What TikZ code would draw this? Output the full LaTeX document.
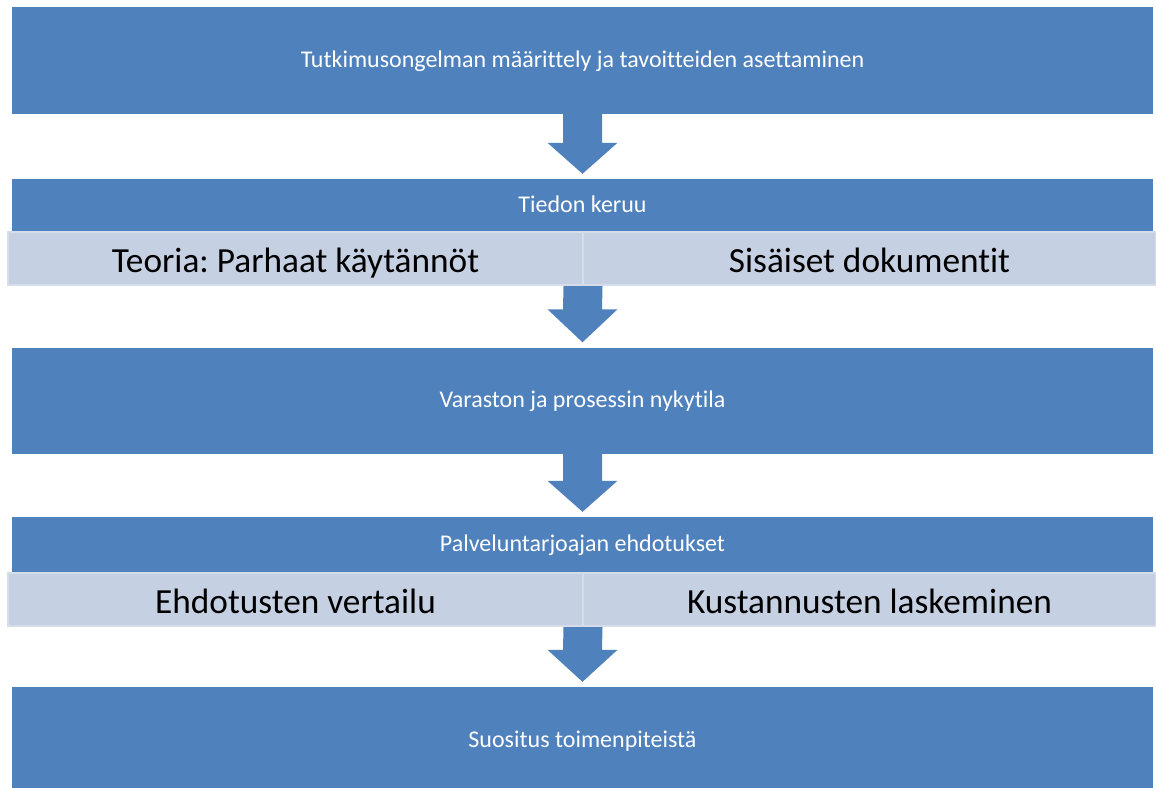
\documentclass[tikz,border=0pt]{standalone}
\usepackage{fontspec}
\setmainfont{Carlito}[Ligatures=NoCommon]
\usetikzlibrary{calc}
\definecolor{dblue}{HTML}{4F81BD}
\definecolor{lblue}{HTML}{C6D0E3}
\definecolor{lline}{HTML}{D6DDEA}
\frenchspacing
\begin{document}
\begin{tikzpicture}[x=1pt,y=-1pt,
  mainbox/.style={fill=dblue, draw=none, minimum width=1141pt, inner sep=0pt, text=white, font=\fontsize{24}{28}\selectfont, text height=17pt, text depth=4pt},
  subbox/.style={fill=lblue, draw=lline, line width=1.2pt, inner sep=0pt, minimum height=53pt, text=black, font=\fontsize{35.3}{40}\selectfont, text height=33pt, text depth=6pt},
  blockarrow/.style={fill=dblue, draw=none}]
\useasboundingbox (0,0) rectangle (1156,787);
\node[mainbox, minimum height=107pt] (b1) at (582.5,60.5) {Tutkimusongelman määrittely ja tavoitteiden asettaminen};
\node[mainbox, minimum height=53pt] (b2) at (582.5,205.5) {Tiedon keruu};
\node[subbox, minimum width=575pt] (s1) at (295.5,258.5) {Teoria: Parhaat käytännöt};
\node[subbox, minimum width=573pt] (s2) at (869.5,258.5) {Sisäiset dokumentit};
\node[mainbox, minimum height=106pt] (b3) at (582.5,400.5) {Varaston ja prosessin nykytila};
\node[mainbox, minimum height=55pt] (b4) at (582.5,544.5) {Palveluntarjoajan ehdotukset};
\node[subbox, minimum width=575pt] (s3) at (295.5,599.5) {Ehdotusten vertailu};
\node[subbox, minimum width=573pt] (s4) at (869.5,599.5) {Kustannusten laskeminen};
\node[mainbox, minimum height=108pt] (b5) at (582.5,741) {Suositus toimenpiteistä};
% block arrows
\newcommand{\blkarrow}[2]{%
  \fill[blockarrow] ($(#1.south)+(-19.5,0)$) -- ($(#1.south)+(19.5,0)$)
    -- ($(#2.north)+(19.5,-36)$) -- ($(#2.north)+(35,-36)$)
    -- ($(#2.north)+(0,-5)$)
    -- ($(#2.north)+(-35,-36)$) -- ($(#2.north)+(-19.5,-36)$) -- cycle;}
\blkarrow{b1}{b2}
\coordinate (m1) at ($(s1.south east)!0.5!(s2.south west)$);
\fill[blockarrow] ($(m1)+(-19.5,0.6)$) -- ($(m1)+(19.5,0.6)$)
    -- ($(b3.north)+(19.5,-38)$) -- ($(b3.north)+(35,-38)$)
    -- ($(b3.north)+(0,-5)$)
    -- ($(b3.north)+(-35,-38)$) -- ($(b3.north)+(-19.5,-38)$) -- cycle;
\blkarrow{b3}{b4}
\coordinate (m2) at ($(s3.south east)!0.5!(s4.south west)$);
\fill[blockarrow] ($(m2)+(-19.5,0.6)$) -- ($(m2)+(19.5,0.6)$)
    -- ($(b5.north)+(19.5,-37)$) -- ($(b5.north)+(35,-37)$)
    -- ($(b5.north)+(0,-5)$)
    -- ($(b5.north)+(-35,-37)$) -- ($(b5.north)+(-19.5,-37)$) -- cycle;
\end{tikzpicture}
\end{document}
